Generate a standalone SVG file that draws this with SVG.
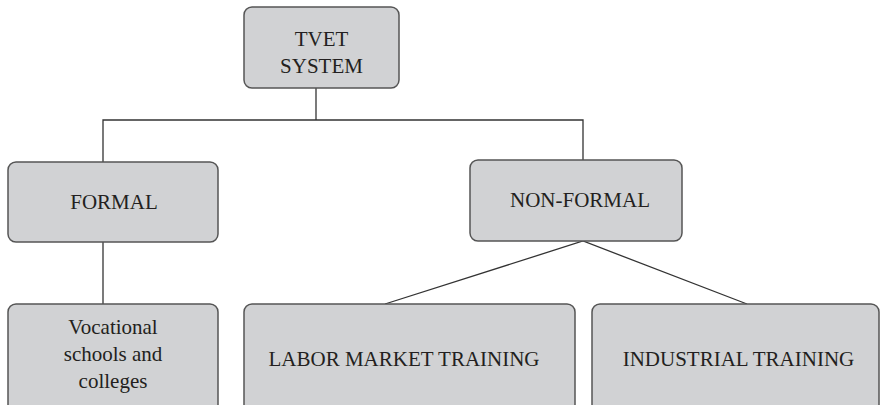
<svg xmlns="http://www.w3.org/2000/svg" width="880" height="405" viewBox="0 0 880 405">
<style>
.box{fill:#d1d2d4;stroke:#555;stroke-width:1.5}
.t{font-family:"Liberation Serif","DejaVu Serif",serif;font-size:21px;fill:#231f20;text-anchor:middle}
.c{stroke:#333;stroke-width:1.3;fill:none}
</style>
<rect width="880" height="405" fill="#fff"/>
<g id="connectors">
<polyline class="c" points="316,88 316,120"/>
<polyline class="c" points="103,162 103,120 583,120 583,160"/>
<polyline class="c" points="103,242 103,304"/>
<polyline class="c" points="385,304 583,241 747,304"/>
</g>
<g id="tvet"><rect class="box" x="244" y="7" width="155" height="81" rx="8"/><text class="t" x="321.5" y="46">TVET</text><text class="t" x="321.5" y="73">SYSTEM</text></g>
<g id="formal"><rect class="box" x="8" y="162" width="210" height="80" rx="8"/><text class="t" x="114" y="209">FORMAL</text></g>
<g id="nonformal"><rect class="box" x="470" y="160" width="212" height="81" rx="8"/><text class="t" x="580" y="207">NON-FORMAL</text></g>
<g id="vocational"><rect class="box" x="8" y="304" width="210" height="110" rx="8"/><text class="t" x="113" y="334">Vocational</text><text class="t" x="113" y="361">schools and</text><text class="t" x="113" y="388">colleges</text></g>
<g id="labor"><rect class="box" x="244" y="304" width="331" height="110" rx="8"/><text class="t" x="404" y="366">LABOR MARKET TRAINING</text></g>
<g id="industrial"><rect class="box" x="592" y="304" width="287" height="110" rx="8"/><text class="t" x="738.5" y="366">INDUSTRIAL TRAINING</text></g>
</svg>
